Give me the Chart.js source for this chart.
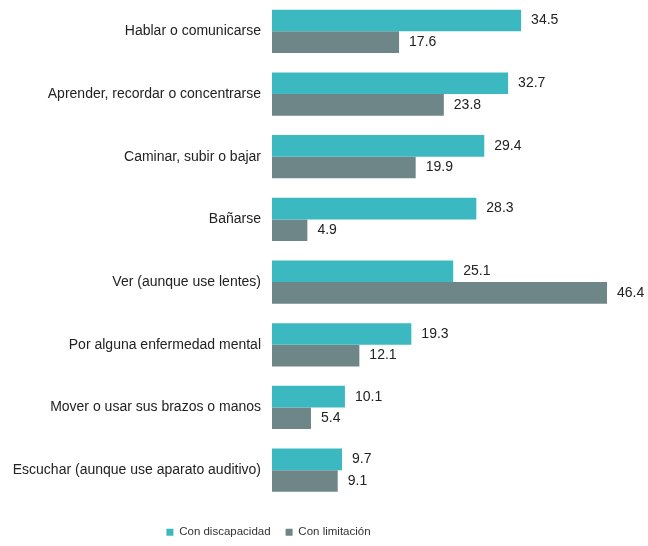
<!DOCTYPE html>
<html>
<head>
<meta charset="utf-8">
<script src="https://cdn.jsdelivr.net/npm/chart.js@4.4.1/dist/chart.umd.min.js"></script>
<style>
    html, body { margin: 0; padding: 0; background: #fff; }
    #wrap { width: 648px; height: 546px; }
</style>
</head>
<body>
<div id="wrap"><canvas id="limitChart"></canvas></div>
<script>
    // Data
    const categories = [
        "Hablar o comunicarse",
        "Aprender, recordar o concentrarse",
        "Caminar, subir o bajar",
        "Bañarse",
        "Ver (aunque use lentes)",
        "Por alguna enfermedad mental",
        "Mover o usar sus brazos o manos",
        "Escuchar (aunque use aparato auditivo)"
    ];
    const discapacidadData = [34.5, 32.7, 29.4, 28.3, 25.1, 19.3, 10.1, 9.7];
    const limitacionData = [17.6, 23.8, 19.9, 4.9, 46.4, 12.1, 5.4, 9.1];

    const fontFamily = '"Liberation Sans", Arial, sans-serif';

    // value labels at the end of each bar
    const barValues = {
        id: 'barValues',
        afterDatasetsDraw(chart) {
            const ctx = chart.ctx;
            ctx.save();
            ctx.font = '14px ' + fontFamily;
            ctx.fillStyle = '#222';
            ctx.textBaseline = 'middle';
            ctx.textAlign = 'left';
            chart.data.datasets.forEach(function(ds, i) {
                chart.getDatasetMeta(i).data.forEach(function(bar, j) {
                    ctx.fillText(ds.data[j].toFixed(1), bar.x + 10, bar.y);
                });
            });
            ctx.restore();
        }
    };

    // the legend in the original sits left of centre and a bit lower
    const legendShift = {
        id: 'legendShift',
        afterLayout(chart) {
            chart.legend.left -= 48;
            chart.legend.right -= 48;
            chart.legend.top += 10;
            chart.legend.bottom += 10;
        }
    };

    const ctx = document.getElementById('limitChart').getContext('2d');
    new Chart(ctx, {
        type: 'bar',
        data: {
            labels: categories,
            datasets: [{
                label: 'Con discapacidad',
                data: discapacidadData,
                backgroundColor: '#3cb8c0',
                borderWidth: 0,
                categoryPercentage: 0.69,
                barPercentage: 1.0
            }, {
                label: 'Con limitación',
                data: limitacionData,
                backgroundColor: '#6e8687',
                borderWidth: 0,
                categoryPercentage: 0.69,
                barPercentage: 1.0
            }]
        },
        options: {
            indexAxis: 'y',
            responsive: true,
            maintainAspectRatio: false,
            animation: false,
            layout: {
                padding: { top: 0, right: 15, bottom: 8, left: 0 }
            },
            plugins: {
                legend: {
                    display: true,
                    position: 'bottom',
                    labels: {
                        boxWidth: 7,
                        boxHeight: 7,
                        padding: 15,
                        color: '#333',
                        font: { size: 11.5, family: fontFamily }
                    }
                },
                tooltip: { enabled: false }
            },
            scales: {
                x: {
                    display: false,
                    min: 0,
                    max: 50
                },
                y: {
                    border: { display: false },
                    grid: { display: false, drawTicks: false },
                    ticks: {
                        color: '#222',
                        padding: 11,
                        font: { size: 14, family: fontFamily }
                    },
                    afterFit: function(scale) {
                        scale.width = 272;
                        scale.paddingTop = 0;
                        scale.paddingBottom = 0;
                    }
                }
            }
        },
        plugins: [barValues, legendShift]
    });
</script>
</body>
</html>
